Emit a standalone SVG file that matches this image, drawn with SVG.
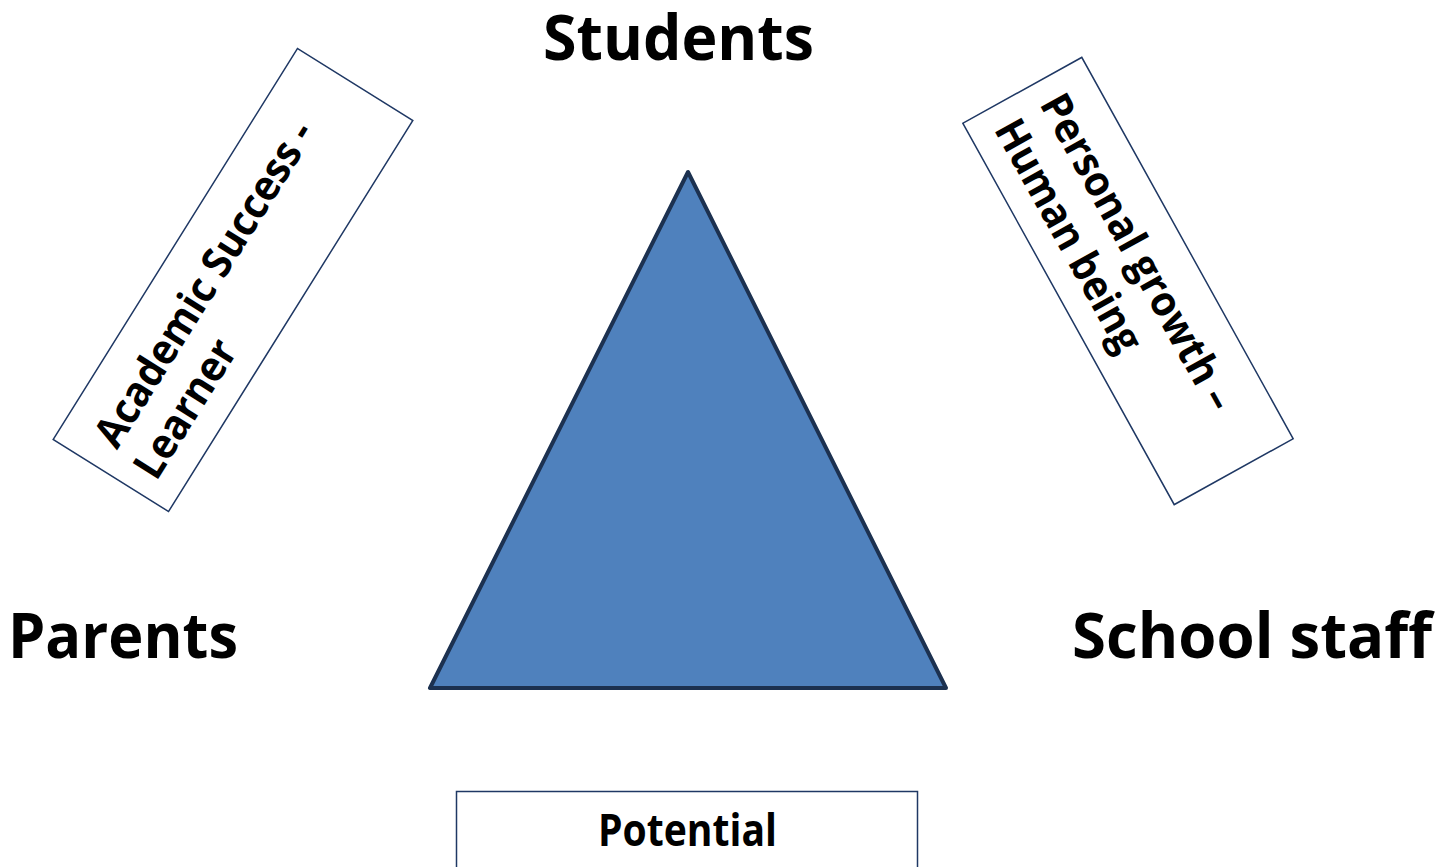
<svg xmlns="http://www.w3.org/2000/svg" width="1446" height="867" viewBox="0 0 1446 867">
<style>
.lbl{font-family:"Open Sans","Liberation Sans",sans-serif;font-weight:bold;fill:#000}
.box{fill:#fff;stroke:#1F3864;stroke-width:1.5}
</style>
<rect width="1446" height="867" fill="#fff"/>
<g id="triangle">
<polygon points="688,172 430,688 946,688" fill="#4F81BD" stroke="#1C3150" stroke-width="4" stroke-linejoin="round"/>
</g>
<g id="students"><text class="lbl" x="543" y="60" font-size="62" textLength="271" lengthAdjust="spacingAndGlyphs">Students</text></g>
<g id="parents"><text class="lbl" x="8" y="658" font-size="62" textLength="230" lengthAdjust="spacingAndGlyphs">Parents</text></g>
<g id="school-staff"><text class="lbl" x="1072" y="658" font-size="62" textLength="360" lengthAdjust="spacingAndGlyphs">School staff</text></g>
<g id="academic" transform="translate(233,280) rotate(-58)">
<rect class="box" x="-230.5" y="-68" width="461" height="136"/>
<text class="lbl" x="-206" y="-8" font-size="42" textLength="375" lengthAdjust="spacingAndGlyphs">Academic Success -</text>
<text class="lbl" x="-212" y="42" font-size="42" textLength="155" lengthAdjust="spacingAndGlyphs">Learner</text>
</g>
<g id="personal" transform="translate(1128,281) rotate(61)">
<rect class="box" x="-218" y="-68" width="436" height="136"/>
<text class="lbl" x="-198" y="-8" font-size="42" textLength="355" lengthAdjust="spacingAndGlyphs">Personal growth –</text>
<text class="lbl" x="-198" y="44" font-size="42" textLength="259" lengthAdjust="spacingAndGlyphs">Human being</text>
</g>
<g id="potential">
<rect class="box" x="456.5" y="791.5" width="461" height="120"/>
<text class="lbl" x="598" y="846" font-size="44" textLength="179" lengthAdjust="spacingAndGlyphs">Potential</text>
</g>
<g id="connectors"></g>
</svg>
